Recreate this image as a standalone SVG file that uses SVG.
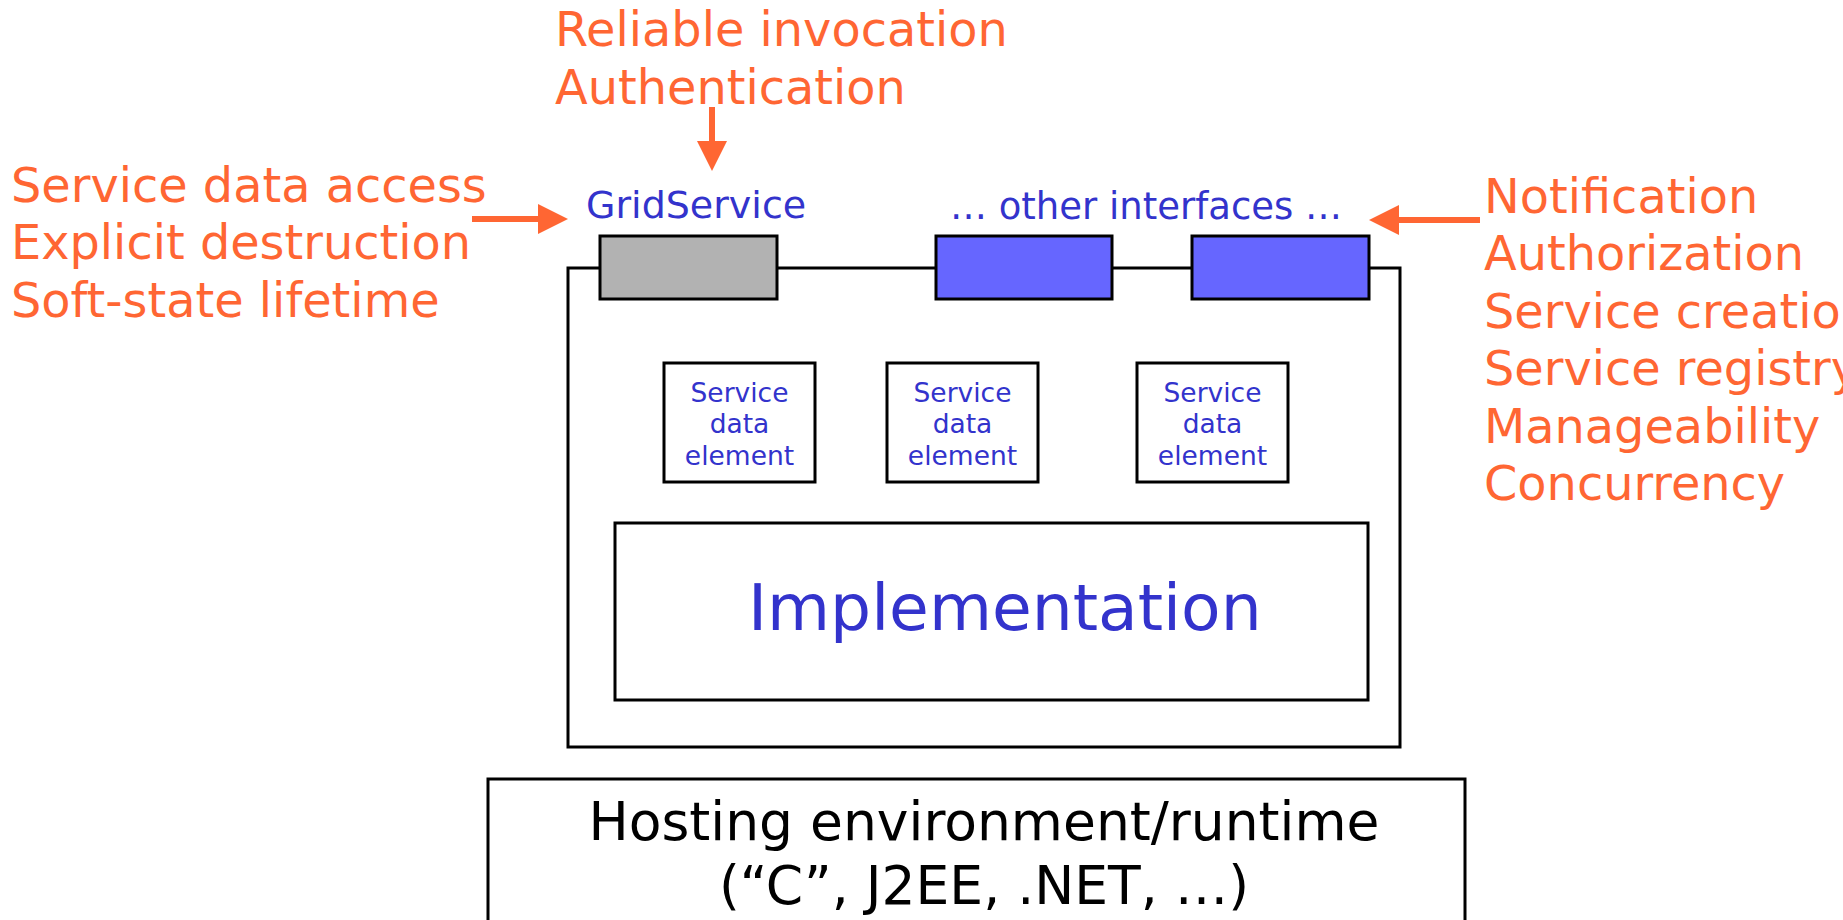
<svg xmlns="http://www.w3.org/2000/svg" width="1843" height="920" viewBox="0 0 1843 920">
<style>
text{font-family:"DejaVu Sans",Verdana,sans-serif}
.or{fill:#FF6633;font-size:47.8px}
.bl{fill:#3333CC}
.box{fill:#fff;stroke:#000;stroke-width:3}
.arr{stroke:#FF6633;stroke-width:6;fill:none}
.sde{fill:#3333CC;font-size:26.5px;text-anchor:middle}
</style>
<defs>
<marker id="ah" markerUnits="userSpaceOnUse" markerWidth="32" markerHeight="32" refX="2" refY="15" orient="auto">
<path d="M0,0 L30,15 L0,30 z" fill="#FF6633"/>
</marker>
</defs>
<rect width="1843" height="920" fill="#fff"/>

<g id="labels-top">
<text class="or" x="555" y="46">Reliable invocation</text>
<text class="or" x="555" y="104">Authentication</text>
</g>
<g id="labels-left">
<text class="or" x="11" y="202">Service data access</text>
<text class="or" x="11" y="259">Explicit destruction</text>
<text class="or" x="11" y="317">Soft-state lifetime</text>
</g>
<g id="labels-right">
<text class="or" x="1484" y="213">Notification</text>
<text class="or" x="1484" y="270">Authorization</text>
<text class="or" x="1484" y="328">Service creation</text>
<text class="or" x="1484" y="385">Service registry</text>
<text class="or" x="1484" y="443">Manageability</text>
<text class="or" x="1484" y="500">Concurrency</text>
</g>

<g id="service">
<rect class="box" x="568" y="268" width="832" height="479"/>
</g>
<g id="gridservice">
<text class="bl" x="586" y="218" font-size="38">GridService</text>
<rect x="600" y="236" width="177" height="63" fill="#B2B2B2" stroke="#000" stroke-width="3"/>
</g>
<g id="other-interfaces">
<text class="bl" x="1146" y="219" font-size="37" text-anchor="middle">… other interfaces …</text>
<rect x="936" y="236" width="176" height="63" fill="#6666FF" stroke="#000" stroke-width="3"/>
<rect x="1192" y="236" width="177" height="63" fill="#6666FF" stroke="#000" stroke-width="3"/>
</g>
<g id="sde1">
<rect class="box" x="664" y="363" width="151" height="119"/>
<text class="sde" x="739.5" y="402">Service</text>
<text class="sde" x="739.5" y="433">data</text>
<text class="sde" x="739.5" y="465">element</text>
</g>
<g id="sde2">
<rect class="box" x="887" y="363" width="151" height="119"/>
<text class="sde" x="962.5" y="402">Service</text>
<text class="sde" x="962.5" y="433">data</text>
<text class="sde" x="962.5" y="465">element</text>
</g>
<g id="sde3">
<rect class="box" x="1137" y="363" width="151" height="119"/>
<text class="sde" x="1212.5" y="402">Service</text>
<text class="sde" x="1212.5" y="433">data</text>
<text class="sde" x="1212.5" y="465">element</text>
</g>
<g id="implementation">
<rect class="box" x="615" y="523" width="753" height="177"/>
<text class="bl" x="748" y="630" font-size="64.7">Implementation</text>
</g>
<g id="hosting">
<rect class="box" x="488" y="779" width="977" height="160"/>
<text x="984" y="840" font-size="53.5" text-anchor="middle" fill="#000">Hosting environment/runtime</text>
<text x="984" y="904" font-size="53.5" text-anchor="middle" fill="#000">(“C”, J2EE, .NET, …)</text>
</g>

<g id="connectors">
<line class="arr" x1="712" y1="107" x2="712" y2="143" marker-end="url(#ah)"/>
<line class="arr" x1="472" y1="219" x2="540" y2="219" marker-end="url(#ah)"/>
<line class="arr" x1="1480" y1="220" x2="1397" y2="220" marker-end="url(#ah)"/>
</g>
</svg>
